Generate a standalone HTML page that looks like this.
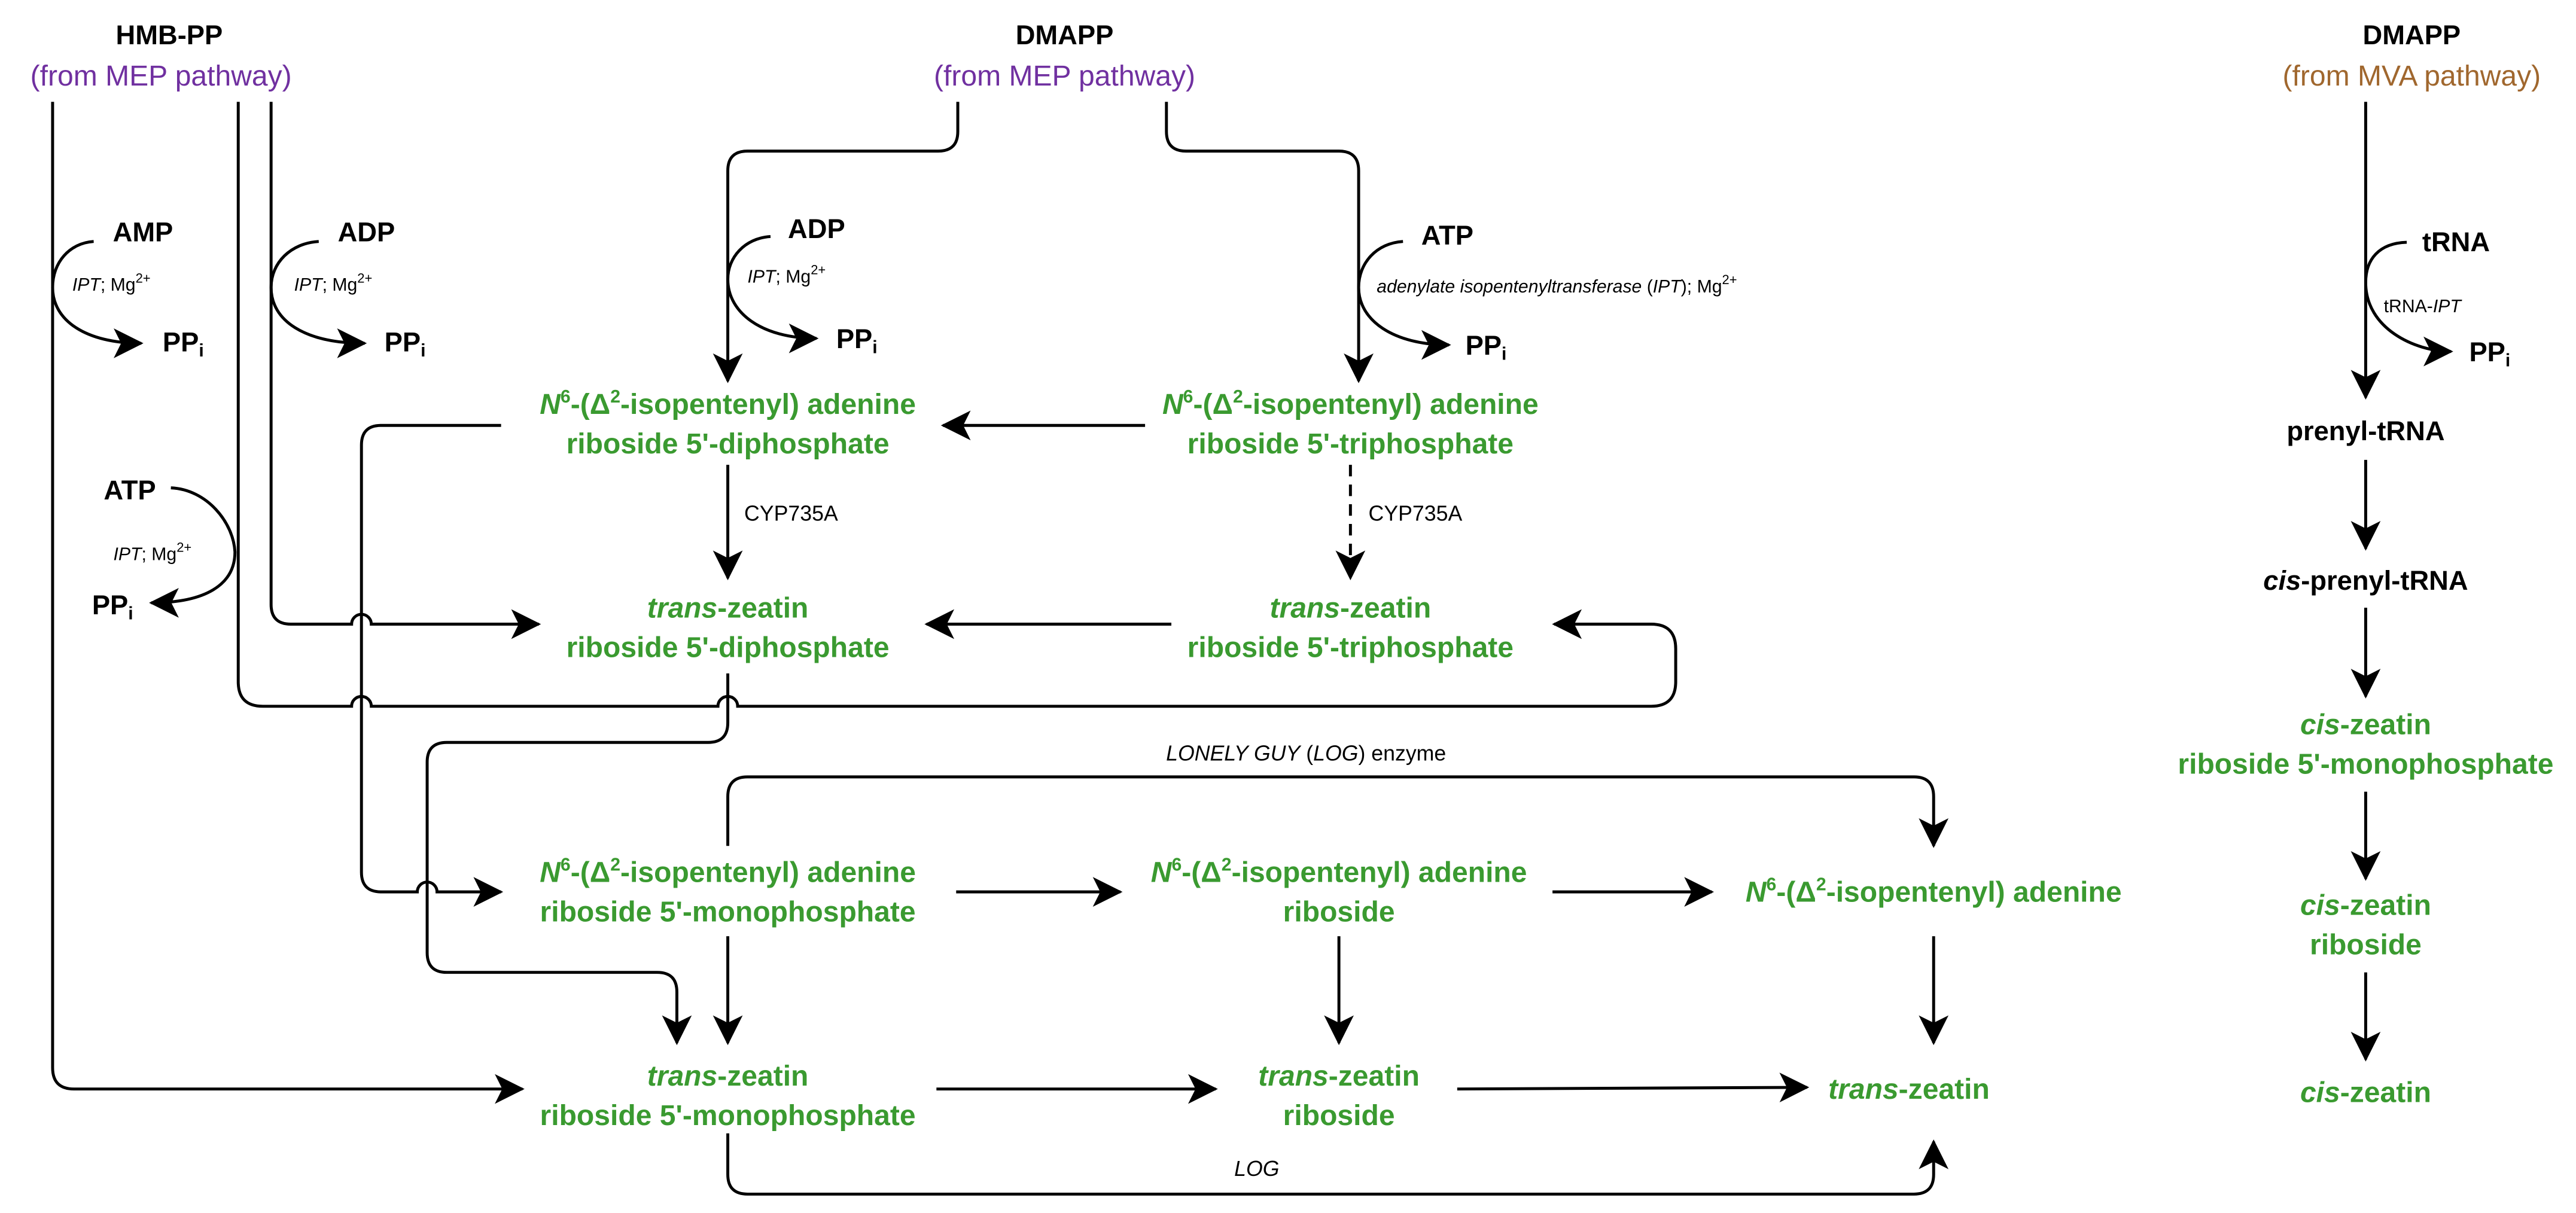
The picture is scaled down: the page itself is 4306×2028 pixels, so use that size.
<!DOCTYPE html>
<html><head><meta charset="utf-8"><style>
html,body{margin:0;padding:0;background:#fff;}
svg{display:block;}
text{font-family:"Liberation Sans",sans-serif;}
.b{font-weight:bold;font-size:16.5px;fill:#000;text-anchor:middle;}
.k{font-weight:bold;font-size:16.5px;fill:#000;}
.g{font-weight:bold;font-size:17.5px;fill:#3a9a30;text-anchor:middle;}
.p{font-size:17.5px;fill:#7030a0;text-anchor:middle;}
.br{font-size:17.5px;fill:#a0672e;text-anchor:middle;}
.s{font-size:11px;fill:#000;}
.c{font-size:13px;fill:#000;}
.l{fill:none;stroke:#000;stroke-width:1.8;}
</style></head><body>
<svg width="4306" height="2028" viewBox="0 0 1568 738.5" xmlns="http://www.w3.org/2000/svg">
<defs>
<marker id="a" markerUnits="userSpaceOnUse" markerWidth="22" markerHeight="22" refX="0" refY="0" viewBox="-15 -8 17 16" orient="auto">
<path d="M1,0 L-13,-7 L-9.5,0 L-13,7 Z" fill="#000"/>
</marker>
</defs>

<!-- headers -->
<text class="b" x="103" y="27">HMB-PP</text>
<text class="p" x="98" y="52">(from MEP pathway)</text>
<text class="b" x="648" y="27">DMAPP</text>
<text class="p" x="648" y="52">(from MEP pathway)</text>
<text class="b" x="1468" y="27">DMAPP</text>
<text class="br" x="1468" y="52">(from MVA pathway)</text>

<!-- long lines -->
<path class="l" d="M32,62 V650 Q32,663 45,663 H318" marker-end="url(#a)"/>
<path class="l" d="M145,62 V415 Q145,430 160,430 H214 A6,6 0 0 1 226,430 H437 A6,6 0 0 1 449,430 H1005 Q1020,430 1020,415 V395 Q1020,380 1005,380 H946" marker-end="url(#a)"/>
<path class="l" d="M165,62 V368 Q165,380 177,380 H214 A6,6 0 0 1 226,380 H328" marker-end="url(#a)"/>
<path class="l" d="M583,62 V80 Q583,92 571,92 H455 Q443,92 443,104 V232" marker-end="url(#a)"/>
<path class="l" d="M710,62 V80 Q710,92 722,92 H815 Q827,92 827,104 V232" marker-end="url(#a)"/>
<path class="l" d="M305,259 H232 Q220,259 220,271 V531 Q220,543 232,543 H254 A6,6 0 0 1 266,543 H305" marker-end="url(#a)"/>
<path class="l" d="M443,410 V440 Q443,452 431,452 H272 Q260,452 260,464 V580 Q260,592 272,592 H400 Q412,592 412,604 V635" marker-end="url(#a)"/>
<path class="l" d="M443,515 V485 Q443,473 455,473 H1165 Q1177,473 1177,485 V515" marker-end="url(#a)"/>
<path class="l" d="M443,690 V715 Q443,727 455,727 H1165 Q1177,727 1177,715 V695" marker-end="url(#a)"/>

<!-- side arcs -->
<path class="l" d="M57,147 C42,148 32,160 32,175 C32,195 52,209 86,209" marker-end="url(#a)"/>
<text class="b" x="87" y="147">AMP</text>
<text class="s" x="44" y="177"><tspan font-style="italic">IPT</tspan>; Mg<tspan dy="-5" font-size="8">2+</tspan></text>
<text class="k" x="99" y="214">PP<tspan dy="3" font-size="11">i</tspan></text>

<path class="l" d="M194,147 C177,148 165,160 165,175 C165,195 185,209 222,209" marker-end="url(#a)"/>
<text class="b" x="223" y="147">ADP</text>
<text class="s" x="179" y="177"><tspan font-style="italic">IPT</tspan>; Mg<tspan dy="-5" font-size="8">2+</tspan></text>
<text class="k" x="234" y="214">PP<tspan dy="3" font-size="11">i</tspan></text>

<path class="l" d="M469,144 C453,145 443,157 443,170 C443,190 463,206 497,206" marker-end="url(#a)"/>
<text class="b" x="497" y="145">ADP</text>
<text class="s" x="455" y="172"><tspan font-style="italic">IPT</tspan>; Mg<tspan dy="-5" font-size="8">2+</tspan></text>
<text class="k" x="509" y="212">PP<tspan dy="3" font-size="11">i</tspan></text>

<path class="l" d="M854,147 C838,148 827,160 827,175 C827,195 848,210 882,210" marker-end="url(#a)"/>
<text class="b" x="881" y="149">ATP</text>
<text class="s" x="838" y="178"><tspan font-style="italic">adenylate isopentenyltransferase</tspan> (<tspan font-style="italic">IPT</tspan>); Mg<tspan dy="-5" font-size="8">2+</tspan></text>
<text class="k" x="892" y="216">PP<tspan dy="3" font-size="11">i</tspan></text>

<path class="l" d="M104,297 C126,298 142,318 143,336 C143,356 125,367 92,367" marker-end="url(#a)"/>
<text class="b" x="79" y="304">ATP</text>
<text class="s" x="69" y="341"><tspan font-style="italic">IPT</tspan>; Mg<tspan dy="-5" font-size="8">2+</tspan></text>
<text class="k" x="56" y="374">PP<tspan dy="3" font-size="11">i</tspan></text>

<path class="l" d="M1465,147.5 C1448,148 1440,158 1440,172 C1440,200 1470,214 1492,214" marker-end="url(#a)"/>
<text class="b" x="1495" y="153">tRNA</text>
<text class="s" x="1451" y="190">tRNA-<tspan font-style="italic">IPT</tspan></text>
<text class="k" x="1503" y="220">PP<tspan dy="3" font-size="11">i</tspan></text>

<!-- MVA column -->
<path class="l" d="M1440,62 V242" marker-end="url(#a)"/>
<text class="b" x="1440" y="268">prenyl-tRNA</text>
<path class="l" d="M1440,280 V334" marker-end="url(#a)"/>
<text class="b" x="1440" y="359"><tspan font-style="italic">cis</tspan>-prenyl-tRNA</text>
<path class="l" d="M1440,370 V424" marker-end="url(#a)"/>
<text class="g" x="1440" y="447"><tspan font-style="italic">cis</tspan>-zeatin</text>
<text class="g" x="1440" y="471">riboside 5'-monophosphate</text>
<path class="l" d="M1440,482 V535" marker-end="url(#a)"/>
<text class="g" x="1440" y="557"><tspan font-style="italic">cis</tspan>-zeatin</text>
<text class="g" x="1440" y="581">riboside</text>
<path class="l" d="M1440,592 V645" marker-end="url(#a)"/>
<text class="g" x="1440" y="671"><tspan font-style="italic">cis</tspan>-zeatin</text>

<!-- main nodes -->
<text class="g" x="443" y="252"><tspan font-style="italic">N</tspan><tspan dy="-7" font-size="11">6</tspan><tspan dy="7">-(Δ</tspan><tspan dy="-7" font-size="11">2</tspan><tspan dy="7">-isopentenyl) adenine</tspan></text>
<text class="g" x="443" y="276">riboside 5'-diphosphate</text>
<text class="g" x="822" y="252"><tspan font-style="italic">N</tspan><tspan dy="-7" font-size="11">6</tspan><tspan dy="7">-(Δ</tspan><tspan dy="-7" font-size="11">2</tspan><tspan dy="7">-isopentenyl) adenine</tspan></text>
<text class="g" x="822" y="276">riboside 5'-triphosphate</text>
<path class="l" d="M697,259 H574" marker-end="url(#a)"/>
<path class="l" d="M443,283 V352" marker-end="url(#a)"/>
<text class="c" x="453" y="317">CYP735A</text>
<path class="l" d="M822,283 V352" stroke-dasharray="7,5" marker-end="url(#a)"/>
<text class="c" x="833" y="317">CYP735A</text>

<text class="g" x="443" y="376"><tspan font-style="italic">trans</tspan>-zeatin</text>
<text class="g" x="443" y="400">riboside 5'-diphosphate</text>
<text class="g" x="822" y="376"><tspan font-style="italic">trans</tspan>-zeatin</text>
<text class="g" x="822" y="400">riboside 5'-triphosphate</text>
<path class="l" d="M713,380 H564" marker-end="url(#a)"/>

<text class="c" x="795" y="463" style="text-anchor:middle"><tspan font-style="italic">LONELY GUY</tspan> (<tspan font-style="italic">LOG</tspan>) enzyme</text>

<text class="g" x="443" y="537"><tspan font-style="italic">N</tspan><tspan dy="-7" font-size="11">6</tspan><tspan dy="7">-(Δ</tspan><tspan dy="-7" font-size="11">2</tspan><tspan dy="7">-isopentenyl) adenine</tspan></text>
<text class="g" x="443" y="561">riboside 5'-monophosphate</text>
<text class="g" x="815" y="537"><tspan font-style="italic">N</tspan><tspan dy="-7" font-size="11">6</tspan><tspan dy="7">-(Δ</tspan><tspan dy="-7" font-size="11">2</tspan><tspan dy="7">-isopentenyl) adenine</tspan></text>
<text class="g" x="815" y="561">riboside</text>
<text class="g" x="1177" y="549"><tspan font-style="italic">N</tspan><tspan dy="-7" font-size="11">6</tspan><tspan dy="7">-(Δ</tspan><tspan dy="-7" font-size="11">2</tspan><tspan dy="7">-isopentenyl) adenine</tspan></text>
<path class="l" d="M582,543 H682" marker-end="url(#a)"/>
<path class="l" d="M945,543 H1042" marker-end="url(#a)"/>
<path class="l" d="M443,570 V635" marker-end="url(#a)"/>
<path class="l" d="M815,570 V635" marker-end="url(#a)"/>
<path class="l" d="M1177,570 V635" marker-end="url(#a)"/>

<text class="g" x="443" y="661"><tspan font-style="italic">trans</tspan>-zeatin</text>
<text class="g" x="443" y="685">riboside 5'-monophosphate</text>
<text class="g" x="815" y="661"><tspan font-style="italic">trans</tspan>-zeatin</text>
<text class="g" x="815" y="685">riboside</text>
<text class="g" x="1162" y="669"><tspan font-style="italic">trans</tspan>-zeatin</text>
<path class="l" d="M570,663 H740" marker-end="url(#a)"/>
<path class="l" d="M887,663 L1100,662" marker-end="url(#a)"/>
<text class="c" x="765" y="716" style="text-anchor:middle;font-style:italic">LOG</text>
</svg>
</body></html>
